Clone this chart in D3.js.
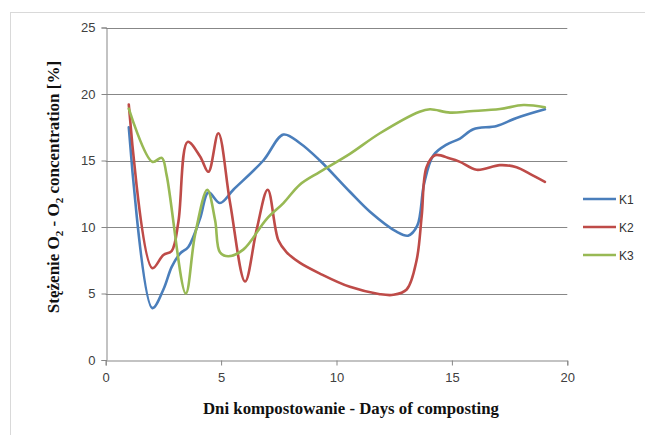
<!DOCTYPE html>
<html>
<head>
<meta charset="utf-8">
<script src="https://cdn.jsdelivr.net/npm/d3@7"></script>
<style>
  html, body { margin: 0; padding: 0; background: #fff; }
  svg { display: block; }
</style>
</head>
<body>
<svg id="chart" width="645" height="435"></svg>
<script>
// ---- data ----
const seriesNames = ["K1", "K2", "K3"];
const xTicks = [0, 5, 10, 15, 20];
const yTicks = [0, 5, 10, 15, 20, 25];

const k1Days   = [1, 2.02, 2.5, 2.86, 3.22, 3.58, 4.09, 4.45, 4.95, 5.53, 6.83, 7.7, 8.42, 9.28, 10.58, 11.45, 12.6, 13.1, 13.5, 13.8, 14.2, 14.77, 15.35, 15.93, 16.94, 17.8, 19.03];
const k1Values = [17.5, 3.9, 5.3, 7.0, 8.0, 8.5, 10.65, 12.6, 11.8, 12.8, 15.0, 16.95, 16.3, 15.0, 12.65, 11.15, 9.65, 9.35, 10.1, 13.3, 15.4, 16.2, 16.65, 17.35, 17.6, 18.2, 18.85];

const k2Days   = [1, 2.02, 2.5, 2.86, 3.15, 3.55, 4.09, 4.45, 4.88, 5.39, 6.04, 6.54, 7.02, 7.48, 7.84, 8.42, 9.28, 10.58, 11.88, 12.46, 13.04, 13.47, 13.69, 13.9, 14.27, 14.92, 15.35, 16.07, 17.08, 17.8, 18.38, 19.03];
const k2Values = [19.2, 6.9, 7.9, 8.2, 10.4, 16.4, 15.3, 14.15, 17.05, 11.8, 5.9, 9.8, 12.8, 9.0, 8.1, 7.3, 6.5, 5.5, 4.95, 4.9, 5.3, 7.5, 10.8, 14.5, 15.4, 15.15, 14.9, 14.3, 14.65, 14.5, 14.0, 13.4];

const k3Days   = [1, 2.02, 2.43, 2.64, 3.47, 3.87, 4.4, 4.74, 4.95, 5.31, 5.96, 6.97, 7.7, 8.42, 9.28, 10.58, 11.88, 13.6, 14.05, 14.92, 15.78, 17.08, 18.1, 19.03];
const k3Values = [18.9, 14.9, 15.2, 13.9, 5.0, 9.4, 12.8, 10.5, 8.1, 7.8, 8.3, 10.6, 11.8, 13.2, 14.15, 15.5, 17.05, 18.67, 18.85, 18.6, 18.7, 18.87, 19.17, 19.0];

const seriesColors = ["#4a7ebb", "#be4b48", "#98b954"];

// ---- build ----
const svg = d3.select("#chart");
const plot = { left: 105.7, right: 567.3, top: 27.5, bottom: 360 };

const x = d3.scaleLinear().domain([0, 20]).range([plot.left, plot.right]);
const y = d3.scaleLinear().domain([0, 25]).range([plot.bottom, plot.top]);

// outer border
svg.append("rect")
  .attr("x", 10.5).attr("y", 12.5)
  .attr("width", 660).attr("height", 440)
  .attr("fill", "#fff").attr("stroke", "#d9d9d9").attr("stroke-width", 1);

// gridlines
svg.append("g").selectAll("line")
  .data(yTicks.filter(d => d > 0))
  .join("line")
  .attr("x1", plot.left).attr("x2", plot.right)
  .attr("y1", d => Math.round(y(d)) + 0.5).attr("y2", d => Math.round(y(d)) + 0.5)
  .attr("stroke", "#878787").attr("stroke-width", 1);

// y axis
const yAxis = svg.append("g")
  .attr("transform", `translate(${Math.round(plot.left) + 0.5},0)`)
  .call(d3.axisLeft(y).tickValues(yTicks).tickSize(5).tickPadding(6).tickFormat(d3.format("d")));
yAxis.select(".domain").attr("stroke", "#878787");
yAxis.selectAll(".tick line").attr("stroke", "#878787");
yAxis.selectAll(".tick text")
  .attr("fill", "#404040").style("font-family", "'Liberation Sans', Arial, sans-serif").style("font-size", "13px");

// x axis
const xAxis = svg.append("g")
  .attr("transform", `translate(0,${Math.round(plot.bottom) + 0.5})`)
  .call(d3.axisBottom(x).tickValues(xTicks).tickSize(5).tickPadding(7).tickFormat(d3.format("d")));
xAxis.select(".domain").attr("stroke", "#878787");
xAxis.selectAll(".tick line").attr("stroke", "#878787");
xAxis.selectAll(".tick text")
  .attr("fill", "#404040").style("font-family", "'Liberation Sans', Arial, sans-serif").style("font-size", "13px");

// series
const allDays = [k1Days, k2Days, k3Days];
const allValues = [k1Values, k2Values, k3Values];
const line = d3.line()
  .x(d => x(d[0]))
  .y(d => y(d[1]))
  .curve(d3.curveCatmullRom.alpha(0.5));

seriesNames.forEach((name, i) => {
  const pts = allDays[i].map((d, j) => [d, allValues[i][j]]);
  svg.append("path")
    .datum(pts)
    .attr("d", line)
    .attr("fill", "none")
    .attr("stroke", seriesColors[i])
    .attr("stroke-width", 2.6)
    .attr("stroke-linejoin", "round")
    .attr("stroke-linecap", "round");
});

// legend
const legend = svg.append("g");
seriesNames.forEach((name, i) => {
  const ly = 199 + i * 28;
  legend.append("line")
    .attr("x1", 583).attr("x2", 616)
    .attr("y1", ly).attr("y2", ly)
    .attr("stroke", seriesColors[i]).attr("stroke-width", 2.6);
  legend.append("text")
    .attr("x", 619).attr("y", ly + 4.5)
    .attr("fill", "#333")
    .style("font-family", "'Liberation Sans', Arial, sans-serif")
    .style("font-size", "12px")
    .text(name);
});

// axis titles
const titleFont = "'Liberation Serif', 'Times New Roman', serif";
svg.append("text")
  .attr("x", 351).attr("y", 414)
  .attr("text-anchor", "middle")
  .attr("fill", "#111")
  .style("font-family", titleFont).style("font-weight", "bold").style("font-size", "16.8px")
  .text("Dni kompostowanie - Days of composting");

const yt = svg.append("text")
  .attr("transform", "translate(59,187) rotate(-90)")
  .attr("text-anchor", "middle")
  .attr("fill", "#111")
  .style("font-family", titleFont).style("font-weight", "bold").style("font-size", "17px");
yt.append("tspan").text("Stężenie O");
yt.append("tspan").attr("dy", 4).style("font-size", "11px").text("2");
yt.append("tspan").attr("dy", -4).text(" - O");
yt.append("tspan").attr("dy", 4).style("font-size", "11px").text("2");
yt.append("tspan").attr("dy", -4).text(" concentration [%]");
</script>
</body>
</html>
